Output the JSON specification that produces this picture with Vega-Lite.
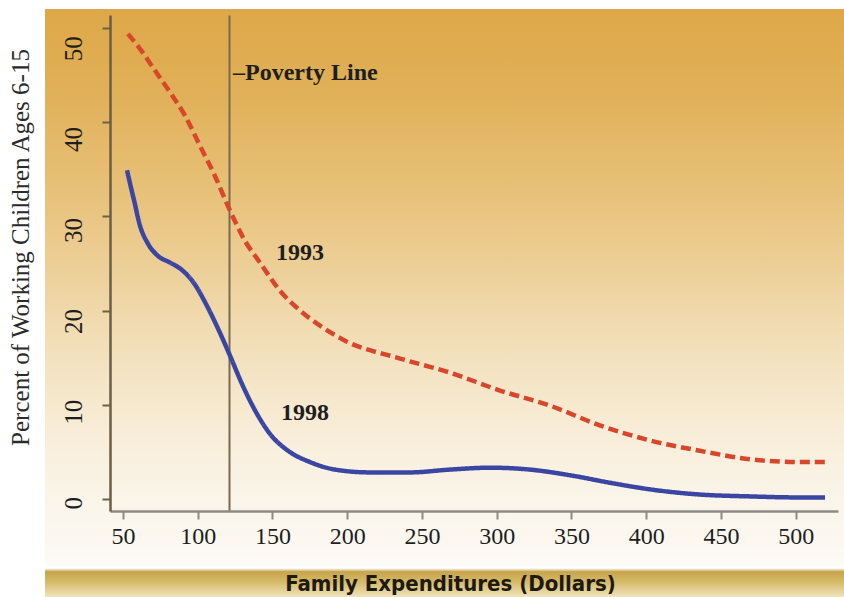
{
  "$schema": "https://vega.github.io/schema/vega-lite/v6.json",
  "width": 799,
  "height": 588,
  "autosize": {"type": "none"},
  "padding": {"left": 45, "top": 9, "right": 0, "bottom": 0},
  "background": "white",
  "config": {
    "view": {
      "stroke": null,
      "fill": {
        "gradient": "linear",
        "x1": 0, "y1": 0, "x2": 0, "y2": 1,
        "stops": [
          {"offset": 0, "color": "#DEA849"},
          {"offset": 0.08, "color": "#DFAC50"},
          {"offset": 0.16, "color": "#E1B25B"},
          {"offset": 0.3, "color": "#E7C077"},
          {"offset": 0.42, "color": "#ECCD93"},
          {"offset": 0.52, "color": "#F0D9AC"},
          {"offset": 0.62, "color": "#F4E4C4"},
          {"offset": 0.72, "color": "#F8EDD8"},
          {"offset": 0.82, "color": "#FAF4E8"},
          {"offset": 0.93, "color": "#FCF9F3"},
          {"offset": 0.947, "color": "#FDFBF8"},
          {"offset": 0.951, "color": "#FFFFFF"},
          {"offset": 0.957, "color": "#C6A44A"},
          {"offset": 0.975, "color": "#D6BB6A"},
          {"offset": 1, "color": "#F0E3BD"}
        ]
      }
    }
  },
  "datasets": {
    "curves": [
      {"x": 53.3, "pct": 49.4, "year": "1993"},
      {"x": 61.4, "pct": 47.8, "year": "1993"},
      {"x": 71.4, "pct": 45.5, "year": "1993"},
      {"x": 81.4, "pct": 43.2, "year": "1993"},
      {"x": 91.5, "pct": 40.7, "year": "1993"},
      {"x": 101.5, "pct": 37.5, "year": "1993"},
      {"x": 111.5, "pct": 34.3, "year": "1993"},
      {"x": 121.6, "pct": 30.6, "year": "1993"},
      {"x": 131.6, "pct": 27.4, "year": "1993"},
      {"x": 141.6, "pct": 25.1, "year": "1993"},
      {"x": 155, "pct": 22.1, "year": "1993"},
      {"x": 168.4, "pct": 20.0, "year": "1993"},
      {"x": 181.8, "pct": 18.4, "year": "1993"},
      {"x": 198.5, "pct": 16.8, "year": "1993"},
      {"x": 235.3, "pct": 14.9, "year": "1993"},
      {"x": 268.8, "pct": 13.4, "year": "1993"},
      {"x": 302.2, "pct": 11.5, "year": "1993"},
      {"x": 335.6, "pct": 9.9, "year": "1993"},
      {"x": 369, "pct": 7.8, "year": "1993"},
      {"x": 402.5, "pct": 6.2, "year": "1993"},
      {"x": 435.9, "pct": 5.1, "year": "1993"},
      {"x": 469.4, "pct": 4.2, "year": "1993"},
      {"x": 502.8, "pct": 3.9, "year": "1993"},
      {"x": 519.6, "pct": 3.9, "year": "1993"},
      {"x": 52.7, "pct": 34.9, "year": "1998"},
      {"x": 54.7, "pct": 33.5, "year": "1998"},
      {"x": 57.4, "pct": 31.7, "year": "1998"},
      {"x": 61.4, "pct": 29.0, "year": "1998"},
      {"x": 66.7, "pct": 27.1, "year": "1998"},
      {"x": 73.4, "pct": 25.8, "year": "1998"},
      {"x": 81.4, "pct": 25.1, "year": "1998"},
      {"x": 89.5, "pct": 24.3, "year": "1998"},
      {"x": 97.5, "pct": 22.9, "year": "1998"},
      {"x": 105.5, "pct": 20.7, "year": "1998"},
      {"x": 113.5, "pct": 18.1, "year": "1998"},
      {"x": 121.6, "pct": 15.2, "year": "1998"},
      {"x": 129.6, "pct": 12.2, "year": "1998"},
      {"x": 138.3, "pct": 9.4, "year": "1998"},
      {"x": 148.3, "pct": 6.9, "year": "1998"},
      {"x": 160.4, "pct": 5.1, "year": "1998"},
      {"x": 175.1, "pct": 3.9, "year": "1998"},
      {"x": 191.8, "pct": 3.1, "year": "1998"},
      {"x": 215.2, "pct": 2.8, "year": "1998"},
      {"x": 242, "pct": 2.8, "year": "1998"},
      {"x": 268.7, "pct": 3.1, "year": "1998"},
      {"x": 295.5, "pct": 3.3, "year": "1998"},
      {"x": 322.2, "pct": 3.1, "year": "1998"},
      {"x": 349, "pct": 2.5, "year": "1998"},
      {"x": 375.8, "pct": 1.7, "year": "1998"},
      {"x": 402.5, "pct": 1.0, "year": "1998"},
      {"x": 435.9, "pct": 0.45, "year": "1998"},
      {"x": 469.4, "pct": 0.25, "year": "1998"},
      {"x": 502.8, "pct": 0.14, "year": "1998"},
      {"x": 519.6, "pct": 0.14, "year": "1998"}
    ],
    "notes": [
      {"x": 123.6, "pct": 44.5, "label": "–Poverty Line"},
      {"x": 152.3, "pct": 25.4, "label": "1993"},
      {"x": 155.7, "pct": 8.4, "label": "1998"}
    ]
  },
  "data": {"name": "curves"},
  "resolve": {"axis": {"x": "independent"}},
  "encoding": {
    "y": {
      "field": "pct", "type": "quantitative",
      "scale": {"domain": [-1.3, 51.4], "range": [502, 6], "nice": false, "zero": false},
      "axis": {
        "values": [0, 10, 20, 30, 40, 50],
        "offset": -65,
        "domain": true, "domainColor": "#6B5E45", "domainWidth": 2.5,
        "grid": false,
        "tickSize": 8, "tickWidth": 2, "tickColor": "#6B6048",
        "labelFont": "Liberation Serif", "labelFontSize": 25, "labelColor": "#1E1E1E",
        "labelAngle": -90, "labelAlign": "center", "labelBaseline": "middle",
        "labelPadding": 29, "labelOffset": {"expr": "4 + datum.value * 0.32"},
        "title": "Percent of Working Children Ages 6-15",
        "titleFont": "Liberation Serif", "titleFontSize": 25, "titleFontWeight": "normal", "titleColor": "#2B2B2B",
        "titleAngle": -90, "titleX": -90, "titleY": 238, "titleAlign": "center", "titleBaseline": "middle"
      }
    }
  },
  "layer": [
    {
      "mark": {"type": "line", "strokeWidth": 4.5, "interpolate": "monotone", "strokeCap": "butt"},
      "encoding": {
        "x": {
          "field": "x", "type": "quantitative",
          "scale": {"domain": [41.3, 528.3], "range": [65, 793], "nice": false, "zero": false},
          "axis": {
            "orient": "bottom",
            "values": [50, 100, 150, 200, 250, 300, 350, 400, 450, 500],
            "offset": -86,
            "domain": true, "domainColor": "#8D8A86", "domainWidth": 2.5,
            "grid": false,
            "tickSize": 8, "tickWidth": 2, "tickColor": "#8D8A86",
            "labelOverlap": false,
            "labelFont": "Liberation Serif", "labelFontSize": 24, "labelColor": "#1E1E1E",
            "labelPadding": 5, "labelBaseline": "top",
            "title": "Family Expenditures (Dollars)",
            "titleFont": "DejaVu Sans Condensed, sans-serif",
            "titleFontSize": 22, "titleFontWeight": "bold", "titleColor": "#1E1A12",
            "titleX": 405, "titleY": 72, "titleAlign": "center", "titleBaseline": "middle"
          }
        },
        "color": {"field": "year", "type": "nominal", "scale": {"domain": ["1993", "1998"], "range": ["#D8472C", "#3B46A3"]}, "legend": null},
        "strokeDash": {"field": "year", "type": "nominal", "scale": {"domain": ["1993", "1998"], "range": [[10, 5], [1, 0]]}, "legend": null}
      }
    },
    {
      "data": {"name": "notes"},
      "mark": {"type": "text", "align": "left", "baseline": "alphabetic", "fontWeight": "bold", "fontSize": 24, "color": "#1E1E1E", "font": "Liberation Serif"},
      "encoding": {
        "x": {
          "field": "x", "type": "quantitative",
          "axis": {
            "orient": "top",
            "values": [121],
            "offset": 0,
            "domain": false, "ticks": false, "labels": false, "title": null,
            "grid": true, "gridColor": "#7A6B50", "gridWidth": 2, "gridOpacity": 1
          }
        },
        "text": {"field": "label"}
      }
    }
  ]
}
